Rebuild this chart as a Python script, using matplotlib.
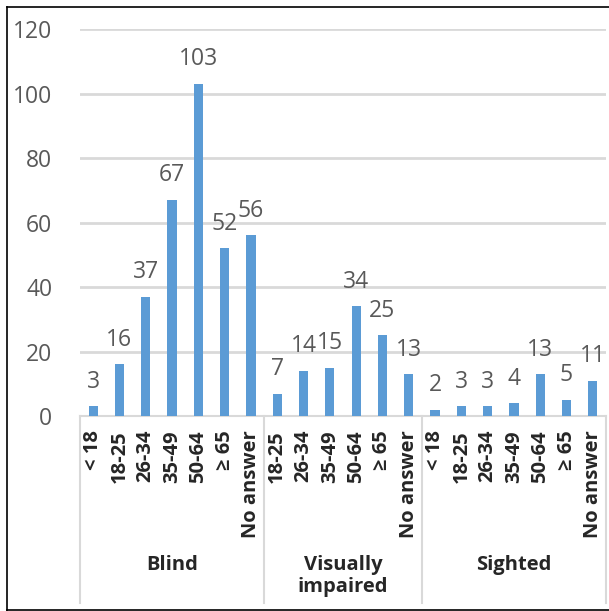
import matplotlib.pyplot as plt
from matplotlib.lines import Line2D

plt.rcParams['font.family'] = ['Open Sans', 'DejaVu Sans']

groups = ['Blind', 'Visually\nimpaired', 'Sighted']
blind_ages = ['< 18', '18-25', '26-34', '35-49', '50-64', '≥ 65', 'No answer']
blind_vals = [3, 16, 37, 67, 103, 52, 56]
vi_ages = ['18-25', '26-34', '35-49', '50-64', '≥ 65', 'No answer']
vi_vals = [7, 14, 15, 34, 25, 13]
sighted_ages = ['< 18', '18-25', '26-34', '35-49', '50-64', '≥ 65', 'No answer']
sighted_vals = [2, 3, 3, 4, 13, 5, 11]

labels = blind_ages + vi_ages + sighted_ages
values = blind_vals + vi_vals + sighted_vals
sizes = [len(blind_vals), len(vi_vals), len(sighted_vals)]
x = list(range(len(values)))

fig = plt.figure(figsize=(6.09, 6.11), dpi=100)
ax = fig.add_axes([0.1314, 0.319, 0.995 - 0.1314, 0.9525 - 0.319])

bars = ax.bar(x, values, width=0.35, color='#5b9bd5', zorder=3)
for xi, v in zip(x, values):
    ax.annotate(str(v), (xi, v), xytext=(0, 9), textcoords='offset points',
                ha='center', va='bottom', fontsize=16.5, color='#595959')

ax.set_ylim(0, 120)
ax.set_xlim(-0.5, len(values) - 0.5)
ax.set_yticks(range(0, 121, 20))
ax.yaxis.grid(True, color='#d9d9d9', linewidth=2, zorder=0)
ax.tick_params(axis='y', length=0, labelsize=16.5, labelcolor='#595959', pad=20)
ax.set_xticks(x)
ax.set_xticklabels(labels, rotation=90, fontsize=14.5, fontweight='bold', color='#262626')
ax.tick_params(axis='x', length=0, pad=10)
for s in ['top', 'right', 'left']:
    ax.spines[s].set_visible(False)
ax.spines['bottom'].set_color('#d9d9d9')
ax.spines['bottom'].set_linewidth(1.5)

# group separators and names
trans = ax.get_xaxis_transform()
start = -0.5
for g, n in zip(groups, sizes):
    ax.add_line(Line2D([start, start], [0, -0.483], transform=trans, color='#d9d9d9',
                       linewidth=1.5, clip_on=False))
    ax.text(start + n / 2, -0.36, g, transform=trans, ha='center', va='top',
            fontsize=14.5, fontweight='bold', color='#262626', linespacing=1.1)
    start += n
ax.add_line(Line2D([start, start], [0, -0.483], transform=trans, color='#d9d9d9',
                   linewidth=1.5, clip_on=False))

# outer frame
fig.add_artist(Line2D([7 / 609, 7 / 609], [0, 1 - 7 / 611], color='black', linewidth=1.2))
fig.add_artist(Line2D([7 / 609, 1], [1 - 7 / 611, 1 - 7 / 611], color='black', linewidth=1.2))
fig.add_artist(Line2D([7 / 609, 1], [0.002, 0.002], color='black', linewidth=1.2))

fig.savefig('out.png', dpi=100)
